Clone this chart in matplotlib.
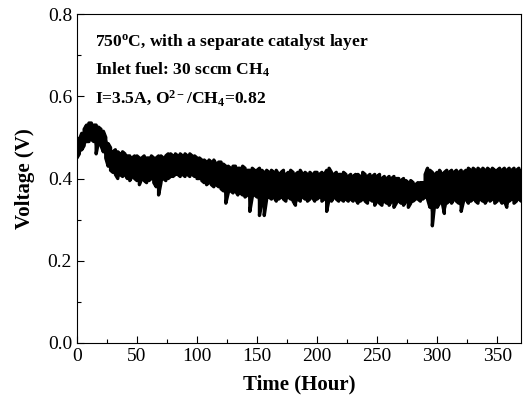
import numpy as np
import matplotlib
matplotlib.use("Agg")
import matplotlib.pyplot as plt
from matplotlib.ticker import MultipleLocator, FormatStrFormatter

plt.rcParams['font.family'] = ['Liberation Serif', 'DejaVu Serif']
plt.rcParams['mathtext.fontset'] = 'custom'
plt.rcParams['mathtext.rm'] = 'Liberation Serif:bold'
plt.rcParams['mathtext.it'] = 'Liberation Serif:bold'
plt.rcParams['mathtext.bf'] = 'Liberation Serif:bold'

# voltage band every 2 hours: top and bottom of the noise
hours = list(range(0, 371, 2))
v_top = [
    0.475, 0.495, 0.51, 0.52, 0.53,
    0.535, 0.535, 0.53, 0.53, 0.525,
    0.52, 0.515, 0.50, 0.485, 0.475,
    0.465, 0.47, 0.465, 0.46, 0.465,
    0.46, 0.455, 0.455, 0.45, 0.455,
    0.455, 0.45, 0.45, 0.455, 0.45,
    0.45, 0.455, 0.45, 0.45, 0.455,
    0.455, 0.45, 0.455, 0.46, 0.46,
    0.455, 0.46, 0.455, 0.46, 0.455,
    0.46, 0.455, 0.46, 0.455, 0.455,
    0.45, 0.45, 0.445, 0.445, 0.44,
    0.445, 0.44, 0.445, 0.435, 0.44,
    0.44, 0.435, 0.43, 0.43, 0.425,
    0.43, 0.43, 0.425, 0.425, 0.43,
    0.425, 0.42, 0.42, 0.425, 0.42,
    0.42, 0.425, 0.42, 0.415, 0.42,
    0.415, 0.42, 0.415, 0.42, 0.41,
    0.415, 0.42, 0.41, 0.415, 0.42,
    0.415, 0.41, 0.415, 0.42, 0.41,
    0.415, 0.41, 0.415, 0.41, 0.415,
    0.415, 0.41, 0.415, 0.41, 0.42,
    0.425, 0.415, 0.41, 0.415, 0.41,
    0.41, 0.415, 0.41, 0.405, 0.41,
    0.405, 0.41, 0.41, 0.405, 0.415,
    0.41, 0.405, 0.41, 0.405, 0.41,
    0.405, 0.41, 0.40, 0.405, 0.40,
    0.405, 0.40, 0.405, 0.40, 0.40,
    0.395, 0.40, 0.395, 0.39, 0.395,
    0.39, 0.385, 0.39, 0.39, 0.39,
    0.41, 0.425, 0.42, 0.415, 0.41,
    0.415, 0.42, 0.41, 0.415, 0.42,
    0.415, 0.42, 0.415, 0.42, 0.415,
    0.42, 0.415, 0.42, 0.425, 0.42,
    0.425, 0.42, 0.425, 0.42, 0.425,
    0.42, 0.425, 0.42, 0.425, 0.42,
    0.42, 0.425, 0.42, 0.425, 0.42,
    0.425, 0.42, 0.425, 0.42, 0.425,
    0.42,
]
v_bot = [
    0.45, 0.46, 0.47, 0.48, 0.49,
    0.49, 0.495, 0.49, 0.46, 0.49,
    0.48, 0.465, 0.45, 0.43, 0.42,
    0.415, 0.41, 0.40, 0.41, 0.405,
    0.41, 0.40, 0.395, 0.405, 0.40,
    0.395, 0.385, 0.40, 0.395, 0.39,
    0.395, 0.40, 0.39, 0.38, 0.36,
    0.39, 0.40, 0.395, 0.40, 0.405,
    0.405, 0.41, 0.41, 0.405, 0.41,
    0.405, 0.41, 0.405, 0.41, 0.405,
    0.40, 0.40, 0.395, 0.39, 0.385,
    0.39, 0.385, 0.38, 0.385, 0.38,
    0.375, 0.37, 0.34, 0.365, 0.37,
    0.365, 0.37, 0.36, 0.365, 0.36,
    0.355, 0.36, 0.32, 0.355, 0.36,
    0.355, 0.31, 0.345, 0.31, 0.35,
    0.355, 0.35, 0.355, 0.345, 0.35,
    0.355, 0.35, 0.345, 0.355, 0.35,
    0.345, 0.335, 0.35, 0.345, 0.355,
    0.35, 0.345, 0.35, 0.355, 0.345,
    0.35, 0.355, 0.345, 0.35, 0.32,
    0.35, 0.345, 0.355, 0.35, 0.345,
    0.35, 0.345, 0.35, 0.345, 0.35,
    0.345, 0.35, 0.34, 0.345, 0.35,
    0.345, 0.34, 0.35, 0.345, 0.335,
    0.345, 0.34, 0.335, 0.345, 0.34,
    0.335, 0.345, 0.33, 0.34, 0.345,
    0.34, 0.335, 0.345, 0.33, 0.34,
    0.345, 0.35, 0.35, 0.345, 0.35,
    0.355, 0.35, 0.33, 0.285, 0.34,
    0.33, 0.34, 0.345, 0.315, 0.34,
    0.345, 0.34, 0.35, 0.345, 0.34,
    0.32, 0.345, 0.35, 0.34, 0.345,
    0.35, 0.345, 0.34, 0.35, 0.345,
    0.34, 0.35, 0.345, 0.35, 0.34,
    0.345, 0.35, 0.34, 0.345, 0.33,
    0.345, 0.35, 0.34, 0.345, 0.35,
    0.345,
]

# trace: vertical sweep top->bottom at each reading, alternating direction
xs = np.repeat(hours, 2)
ys = []
for i, (t, b) in enumerate(zip(v_top, v_bot)):
    ys += [t, b] if i % 2 == 0 else [b, t]

fig = plt.figure(figsize=(5.27, 4.03), dpi=100)
ax = fig.add_axes([0.146, 0.149, 0.843, 0.816])

ax.fill_between(hours, v_bot, v_top, color='black', linewidth=0)
ax.plot(xs, ys, color='black', linewidth=2.4, solid_joinstyle='round',
        solid_capstyle='round')

ax.set_xlim(0, 370)
ax.set_ylim(0.0, 0.8)
ax.xaxis.set_major_locator(MultipleLocator(50))
ax.xaxis.set_minor_locator(MultipleLocator(25))
ax.yaxis.set_major_locator(MultipleLocator(0.2))
ax.yaxis.set_minor_locator(MultipleLocator(0.1))
ax.yaxis.set_major_formatter(FormatStrFormatter('%.1f'))
ax.tick_params(which='major', direction='in', length=5, width=0.8, labelsize=14)
ax.tick_params(which='minor', direction='in', length=3, width=0.8)
for s in ax.spines.values():
    s.set_linewidth(0.8)

ax.set_xlabel('Time (Hour)', fontsize=15, fontweight='bold', labelpad=7)
ax.set_ylabel('Voltage (V)', fontsize=15, fontweight='bold', labelpad=9)

ax.text(0.04, 0.915, r'750$^{\rm o}$C, with a separate catalyst layer',
        transform=ax.transAxes, fontsize=12.6, fontweight='bold', va='center')
ax.text(0.04, 0.83, r'Inlet fuel: 30 sccm CH$_4$',
        transform=ax.transAxes, fontsize=12.6, fontweight='bold', va='center')
ax.text(0.04, 0.745, r'I=3.5A, O$^{2-}$/CH$_4$=0.82',
        transform=ax.transAxes, fontsize=12.6, fontweight='bold', va='center')

fig.savefig('out.png', dpi=100)
